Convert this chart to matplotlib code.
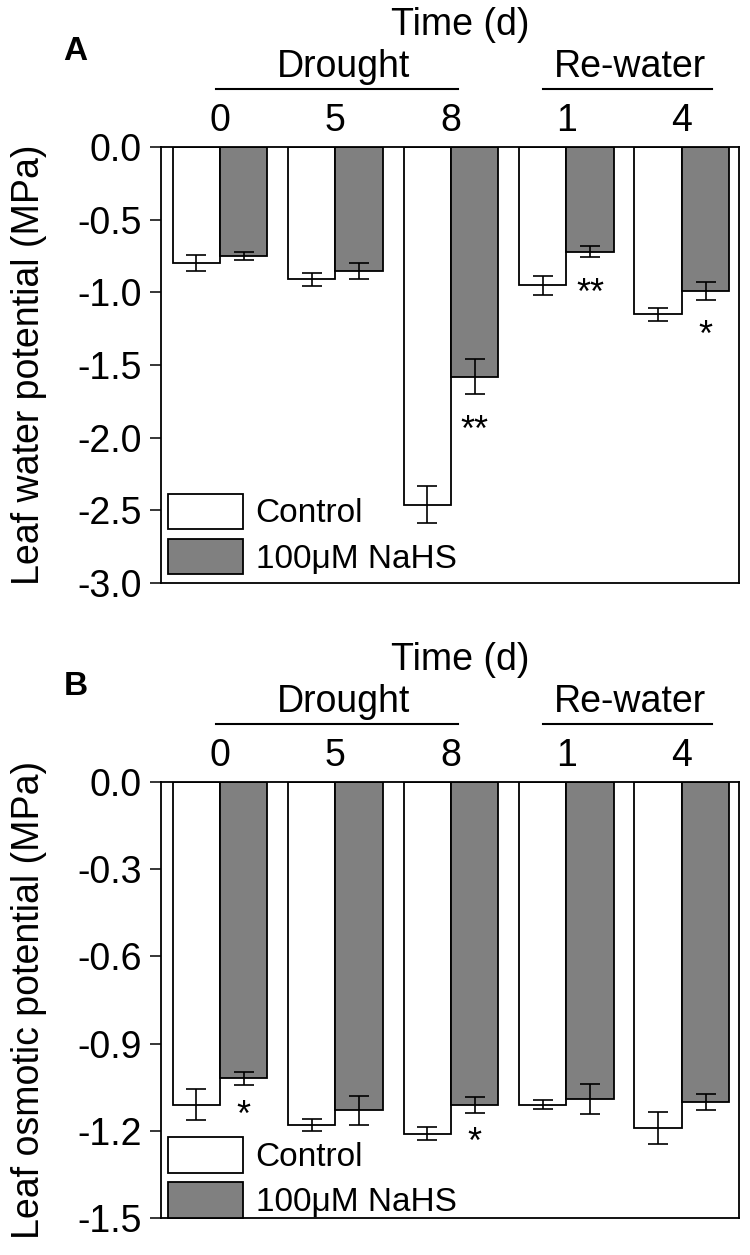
import numpy as np
import matplotlib
matplotlib.use("Agg")
import matplotlib.pyplot as plt
import matplotlib.transforms as mtransforms

plt.rcParams['font.family'] = ['Liberation Sans', 'DejaVu Sans']
plt.rcParams['axes.unicode_minus'] = False

# ---- data ----
days = ["0", "5", "8", "1", "4"]
phases = ["Drought", "Re-water"]
series = ["Control", "100\u03bcM NaHS"]

water_ctrl = [-0.80, -0.91, -2.46, -0.95, -1.15]
water_ctrl_err = [0.055, 0.045, 0.13, 0.065, 0.045]
water_nahs = [-0.75, -0.85, -1.58, -0.72, -0.99]
water_nahs_err = [0.025, 0.055, 0.12, 0.04, 0.06]
water_sig = ["", "", "**", "**", "*"]

osm_ctrl = [-1.11, -1.18, -1.21, -1.11, -1.19]
osm_ctrl_err = [0.053, 0.02, 0.023, 0.015, 0.055]
osm_nahs = [-1.02, -1.13, -1.11, -1.09, -1.10]
osm_nahs_err = [0.024, 0.049, 0.028, 0.052, 0.028]
osm_sig = ["*", "", "*", "", ""]

W, H = 750, 1255
fig = plt.figure(figsize=(W / 100, H / 100), dpi=100)

ax_left = 161 / W
ax_w = 578 / W
ax_h = 436 / H
axA = fig.add_axes([ax_left, (H - 583) / H, ax_w, ax_h])
axB = fig.add_axes([ax_left, (H - 1218) / H, ax_w, ax_h])

FS = 27
bw = 0.41
grey = "#808080"
lw = 1.3


def draw(ax, ctrl, cerr, nahs, nerr, sig, ylim, ticks, ylabel, star_off, panel, leg_y):
    x = np.arange(len(days))
    ax.bar(x - bw / 2, ctrl, bw, color="white", edgecolor="black", linewidth=lw,
           label=series[0], zorder=2)
    ax.bar(x + bw / 2, nahs, bw, color=grey, edgecolor="black", linewidth=lw,
           label=series[1], zorder=2)
    ax.errorbar(x - bw / 2, ctrl, yerr=cerr, fmt="none", ecolor="black",
                elinewidth=1.2, capsize=7, capthick=1.2, zorder=3)
    ax.errorbar(x + bw / 2, nahs, yerr=nerr, fmt="none", ecolor="black",
                elinewidth=1.2, capsize=7, capthick=1.2, zorder=3)
    for xi, v, e, s in zip(x, nahs, nerr, sig):
        if s:
            ax.text(xi + bw / 2, v - e - star_off, s, ha="center", va="center",
                    fontsize=26, zorder=4)

    ax.set_xlim(-0.51, 4.495)
    ax.set_ylim(*ylim)
    ax.set_yticks(ticks)
    ax.set_yticklabels([f"{t:.1f}" for t in ticks])
    ax.xaxis.tick_top()
    ax.set_xticks(x)
    ax.set_xticklabels(days)
    ax.tick_params(axis="x", length=0, pad=6, labelsize=FS)
    ax.tick_params(axis="y", direction="out", length=8, width=1.1, pad=6, labelsize=FS)
    for sp in ax.spines.values():
        sp.set_linewidth(lw)
        sp.set_color("black")
    ax.set_ylabel(ylabel, fontsize=FS)
    ax.yaxis.set_label_coords(-0.197, 0.5)

    trans = mtransforms.blended_transform_factory(ax.transData, ax.transAxes)
    ax.plot([-0.03, 2.06], [1.133, 1.133], transform=trans, color="black",
            lw=1.5, clip_on=False)
    ax.plot([2.80, 4.26], [1.133, 1.133], transform=trans, color="black",
            lw=1.5, clip_on=False)
    ax.text(1.07, 1.1606, phases[0], transform=trans, ha="center", va="baseline",
            fontsize=FS)
    ax.text(3.55, 1.1606, phases[1], transform=trans, ha="center", va="baseline",
            fontsize=FS)
    ax.text(2.08, 1.257, "Time (d)", transform=trans, ha="center", va="baseline",
            fontsize=FS)
    ax.text(-0.148, 1.22, panel, transform=ax.transAxes, ha="center", va="center",
            fontsize=24, fontweight="bold")

    ax.legend(loc="lower left", bbox_to_anchor=(0.0, leg_y), frameon=False,
              fontsize=24, handlelength=2.25, handleheight=1.25,
              handletextpad=0.39, labelspacing=0.28, borderpad=0.2,
              borderaxespad=0.0)


draw(axA, water_ctrl, water_ctrl_err, water_nahs, water_nahs_err, water_sig,
     (-3.0, 0.0), np.arange(0.0, -3.01, -0.5), "Leaf water potential (MPa)",
     0.255, "A", 0.004)
draw(axB, osm_ctrl, osm_ctrl_err, osm_nahs, osm_nahs_err, osm_sig,
     (-1.5, 0.0), np.arange(0.0, -1.51, -0.3), "Leaf osmotic potential (MPa)",
     0.105, "B", -0.016)

fig.savefig("out.png", dpi=100)
